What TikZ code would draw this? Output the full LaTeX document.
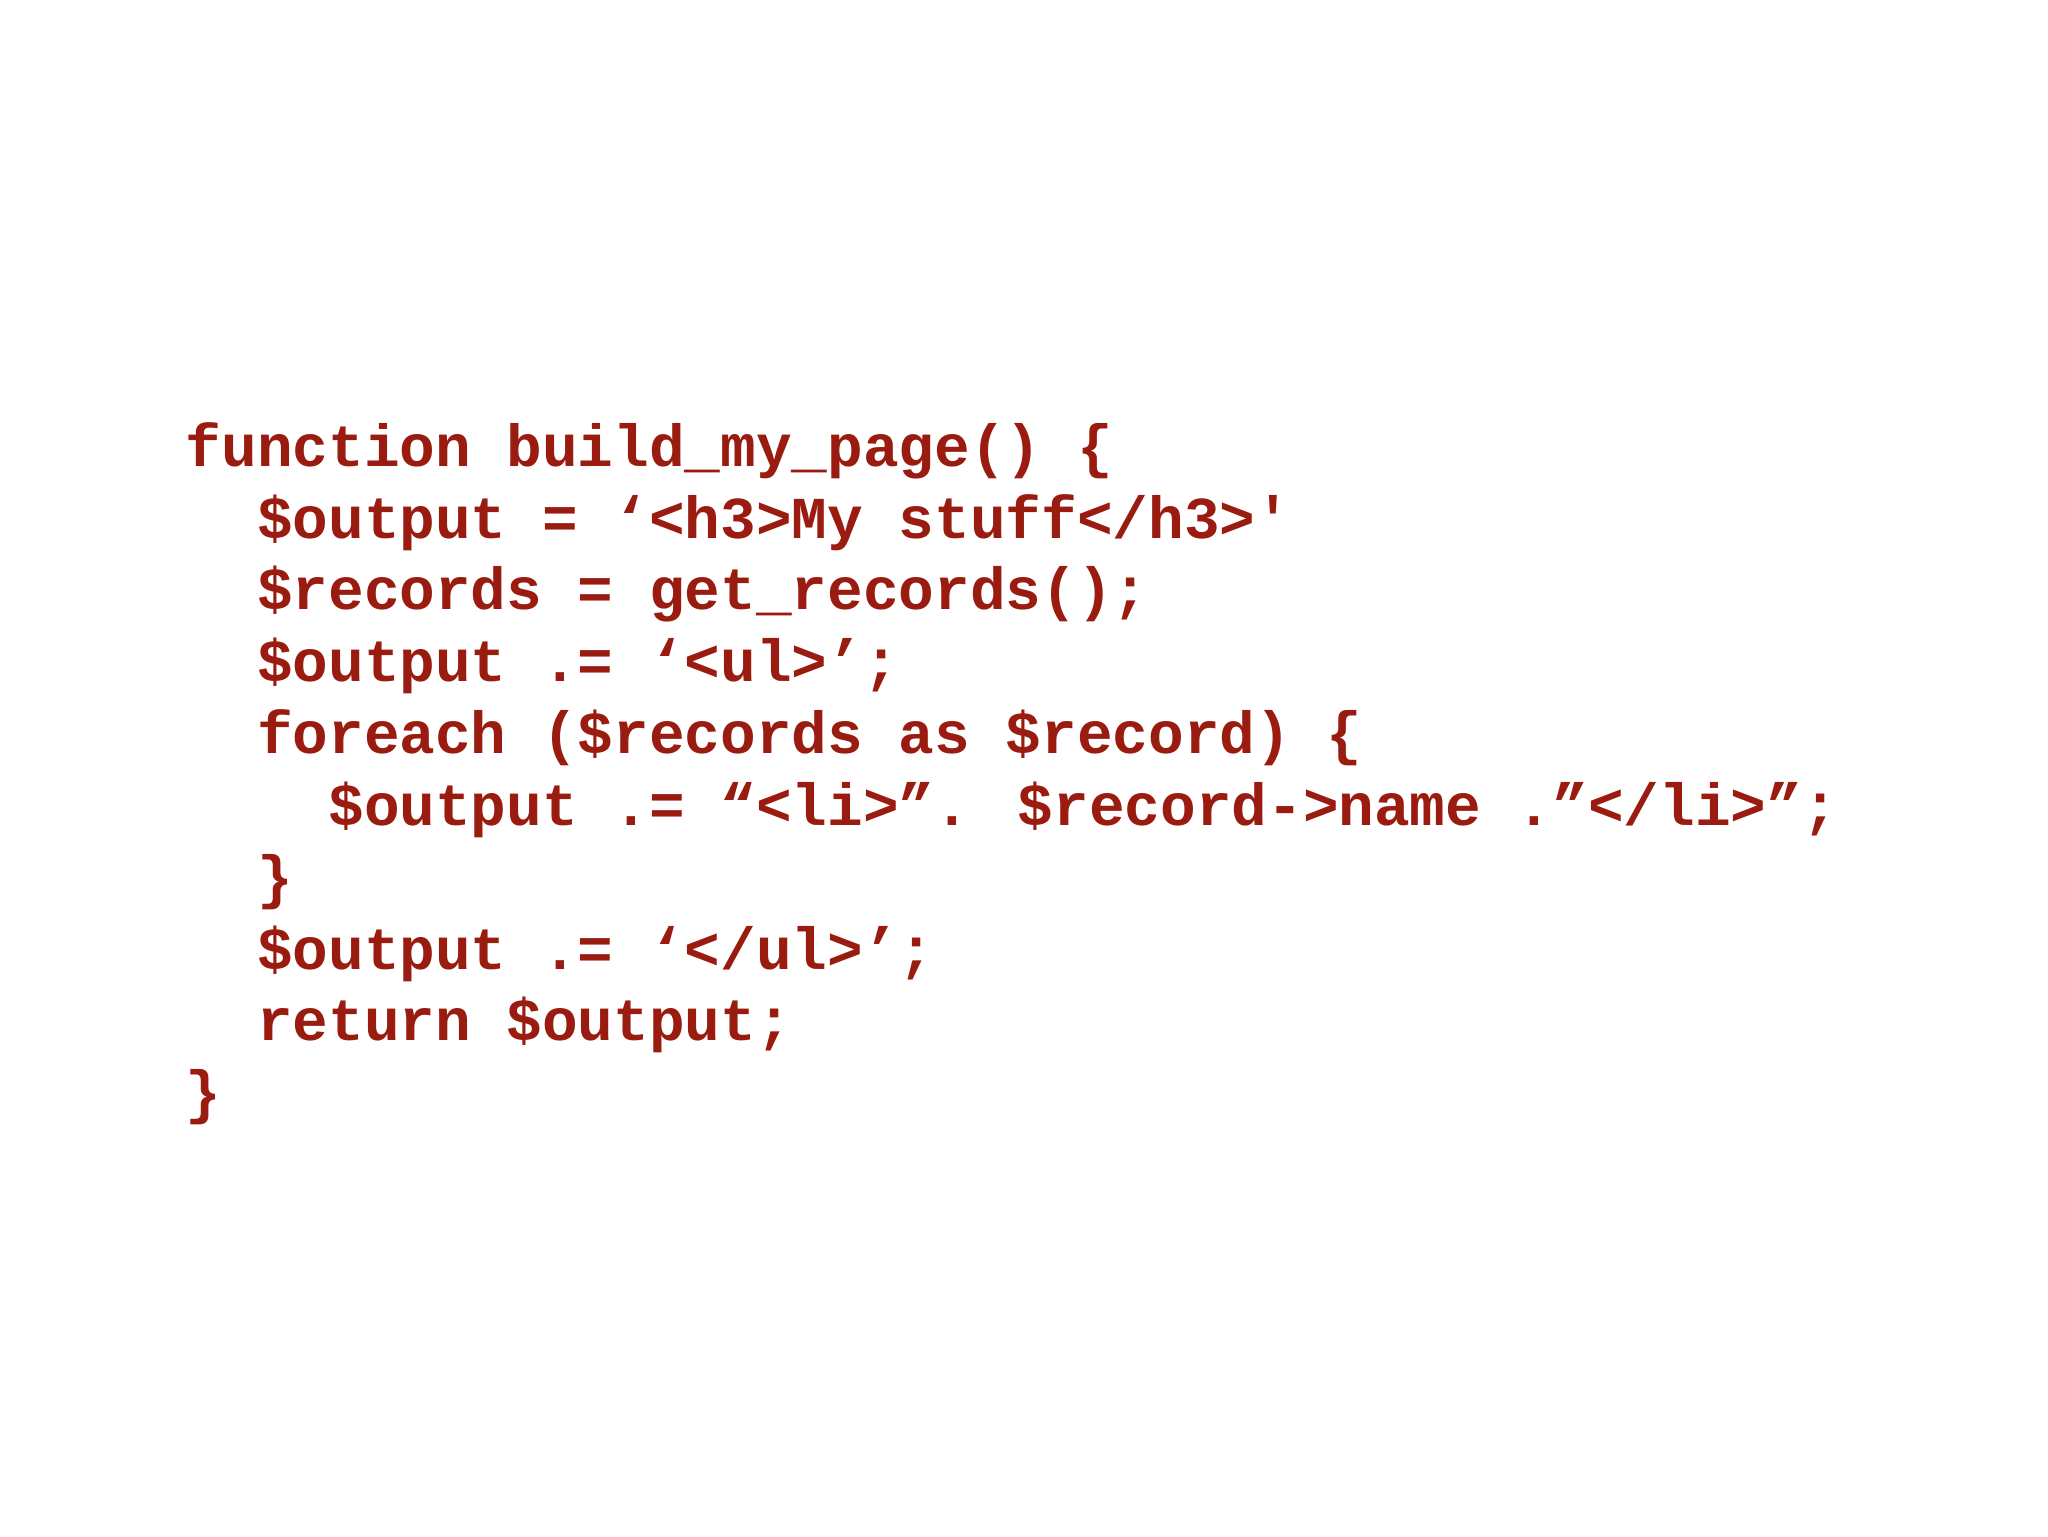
\documentclass[tikz,border=0pt]{standalone}
\usepackage{fontspec}
\newfontfamily\codefont{Liberation Mono}
\definecolor{codered}{HTML}{9A1B10}
\tikzset{codeline/.style={anchor=base west,inner sep=0pt,text=codered,font=\codefont\bfseries\fontsize{45.5bp}{55bp}\selectfont}}
\begin{document}
\begin{tikzpicture}[x=1bp,y=-1bp]
\useasboundingbox (0,0) rectangle (1568,1176);
\node[codeline] (l1) at (142,357) {function build\_my\_page() \{};
\node[codeline] (l2) at (196.6,412) {\$output = ‘<h3>My stuff</h3>'};
\node[codeline] (l3) at (196.6,467) {\$records = get\_records();};
\node[codeline] (l4) at (196.6,522) {\$output .= ‘<ul>’;};
\node[codeline] (l5) at (196.6,577) {foreach (\$records as \$record) \{};
\node[codeline] (l6) at (251.2,632) {\$output .= “<li>”. \$record->name .”</li>”;};
\node[codeline] (l7) at (196.6,687) {\}};
\node[codeline] (l8) at (196.6,742) {\$output .= ‘</ul>’;};
\node[codeline] (l9) at (196.6,797) {return \$output;};
\node[codeline] (l10) at (142,852) {\}};
\end{tikzpicture}
\end{document}
